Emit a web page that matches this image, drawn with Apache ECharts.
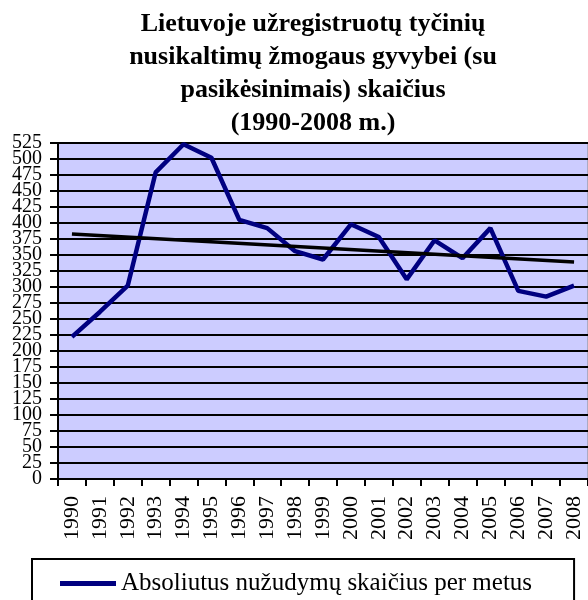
<!DOCTYPE html>
<html>
<head>
<meta charset="utf-8">
<script src="https://cdn.jsdelivr.net/npm/echarts@6/dist/echarts.min.js"></script>
<style>
  html, body { margin: 0; padding: 0; background: #fff; }
  #chart { width: 588px; height: 600px; }
</style>
</head>
<body>
<div id="chart"></div>
<script>
// metai
const years = ['1990', '1991', '1992', '1993', '1994', '1995', '1996', '1997', '1998', '1999',
  '2000', '2001', '2002', '2003', '2004', '2005', '2006', '2007', '2008'];
// nužudymų skaičius per metus
const murders = [222, 261, 302, 479, 523, 502, 405, 392, 356, 343,
  398, 378, 312, 373, 345, 392, 294, 285, 302];
// tiesinio trendo galai (1990 ir 2008)
const trendEnds = [383, 339];

const serif = 'Liberation Serif';
const seriesName = 'Absoliutus nužudymų skaičius per metus';
const yMax = 525;

// bendri y ašies užrašų nustatymai
const yLabel = { margin: 16, fontFamily: serif, fontSize: 20, color: '#000' };
const yTick = { show: true, length: 8, lineStyle: { color: '#000', width: 2 } };

const chart = echarts.init(document.getElementById('chart'));
chart.setOption({
  animation: false,
  title: {
    text: 'Lietuvoje užregistruotų tyčinių\nnusikaltimų žmogaus gyvybei (su\npasikėsinimais) skaičius\n(1990-2008 m.)',
    left: 308,
    top: 3,
    textAlign: 'center',
    textStyle: {
      fontFamily: serif,
      fontSize: 26,
      fontWeight: 'bold',
      color: '#000',
      lineHeight: 33,
    },
  },
  grid: {
    left: 58,
    top: 143,
    width: 536,
    height: 336,
    show: true,
    backgroundColor: '#ccccff',
    borderColor: '#888',
    borderWidth: 1,
  },
  legend: {
    data: [{ name: seriesName, icon: 'rect' }],
    left: 32,
    top: 559,
    padding: [12, 42, 40, 28],
    borderColor: '#000',
    borderWidth: 2,
    itemWidth: 56,
    itemHeight: 5,
    itemGap: 6,
    itemStyle: { color: '#000080' },
    textStyle: { fontFamily: serif, fontSize: 25, color: '#000' },
  },
  xAxis: {
    type: 'category',
    data: years,
    axisLine: { lineStyle: { color: '#000', width: 2 } },
    axisTick: { show: true, inside: false, length: 7, lineStyle: { color: '#000', width: 2 } },
    axisLabel: {
      interval: 0,
      rotate: 90,
      margin: 17,
      fontFamily: serif,
      fontSize: 22,
      color: '#000',
    },
  },
  yAxis: [
    {
      type: 'value',
      position: 'left',
      min: 0,
      max: yMax,
      interval: 25,
      axisLine: { show: true, lineStyle: { color: '#000', width: 2 } },
      axisTick: yTick,
      axisLabel: Object.assign({ showMinLabel: false, showMaxLabel: false }, yLabel),
      splitLine: { show: true, lineStyle: { color: '#000', width: 2 } },
    },
    {
      // tik 0 ir 525 užrašams
      type: 'value',
      position: 'left',
      offset: 0,
      min: 0,
      max: yMax,
      interval: yMax,
      axisLine: { show: false },
      axisTick: yTick,
      axisLabel: Object.assign({ showMinLabel: true, showMaxLabel: true }, yLabel),
      splitLine: { show: false },
    },
  ],
  series: [
    {
      name: seriesName,
      type: 'line',
      data: murders,
      symbol: 'none',
      lineStyle: { color: '#000080', width: 4.5 },
      itemStyle: { color: '#000080' },
      z: 3,
    },
    {
      name: 'trend',
      type: 'line',
      data: [[0, trendEnds[0]], [years.length - 1, trendEnds[1]]],
      symbol: 'none',
      lineStyle: { color: '#000', width: 3.5 },
      z: 4,
    },
  ],
});
</script>
</body>
</html>
